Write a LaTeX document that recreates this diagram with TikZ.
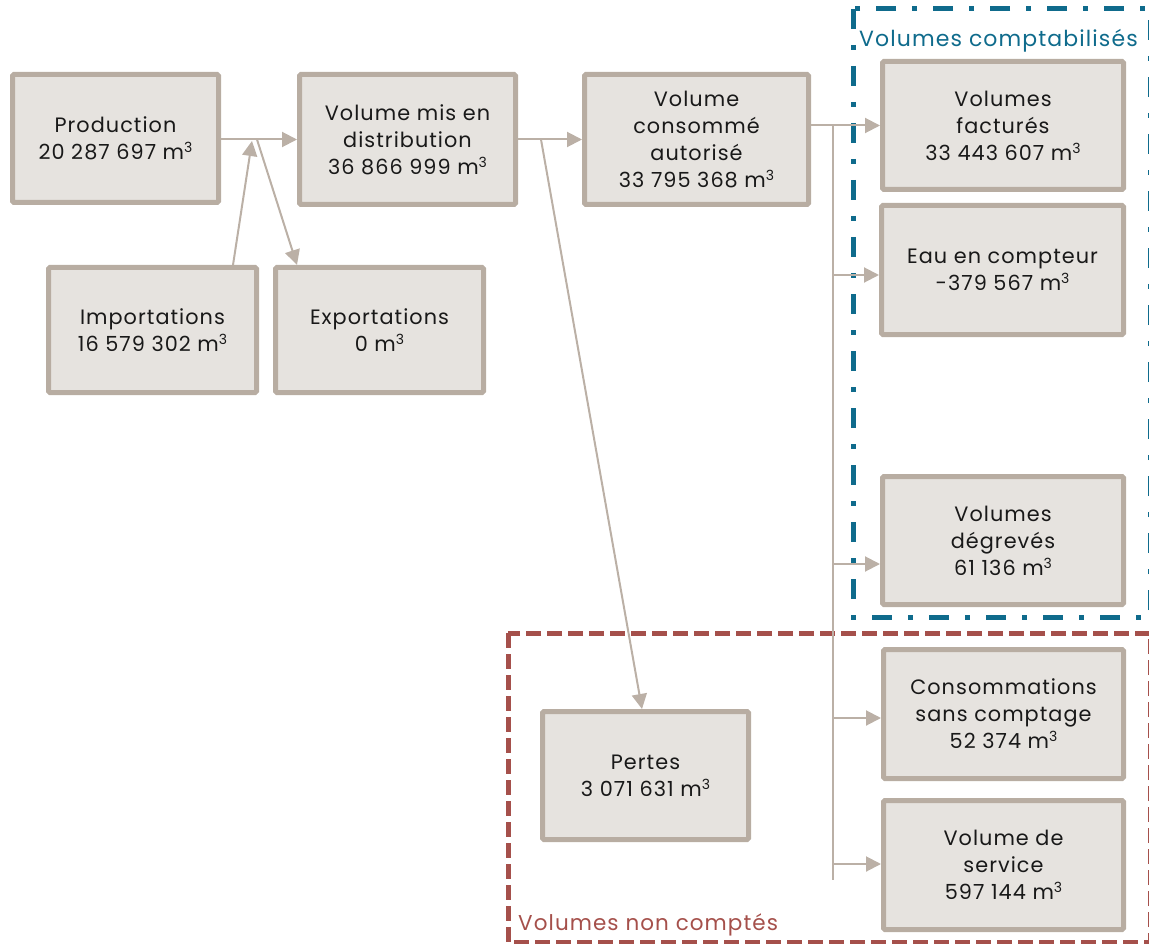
\documentclass[tikz,border=0pt]{standalone}
\usepackage{fontspec}
\setmainfont{Poppins}[LetterSpace=5]
\usetikzlibrary{arrows.meta}
\definecolor{bfill}{HTML}{E6E3DF}
\definecolor{bline}{HTML}{B8ADA2}
\definecolor{cline}{HTML}{BBB0A6}
\definecolor{fblue}{HTML}{0F6B8C}
\definecolor{fred}{HTML}{A5504B}
\newcommand{\mcube}{m\raisebox{0.62ex}{\fontsize{14}{14}\selectfont 3}}
\tikzset{
  box/.style={draw=bline, fill=bfill, line width=5pt, rounded corners=1.5pt, inner sep=0pt,
    align=center, text=black!90, font=\fontsize{20.8}{27}\selectfont},
  conn/.style={draw=cline, line width=2pt},
  arr/.style={conn, -{Triangle[length=15pt, width=15pt]}},
  framelabel/.style={anchor=base west, inner sep=0pt, font=\fontsize{21.5}{25}\selectfont},
}
\begin{document}
\begin{tikzpicture}[x=1pt, y=-1pt]
\useasboundingbox (0,0) rectangle (1149,944);
% frames
\draw[fblue, line width=5pt, dash pattern=on 20pt off 16pt on 5pt off 16pt] (853,9) rectangle (1150,617);
\draw[fred, line width=5pt, dash pattern=on 15pt off 6pt] (508,633) rectangle (1150,942);
\node[framelabel, text=fblue, font=\fontsize{22}{25}\selectfont] (lblA) at (859,47) {Volumes comptabilisés};
\node[framelabel, text=fred] (lblB) at (518,930) {Volumes non comptés};
% boxes
\node[box, minimum width=206pt, minimum height=128pt] (prod) at (115.5,138.5) {Production\\20 287 697 \mcube};
\node[box, minimum width=216pt, minimum height=130pt] (dist) at (407.5,139.5) {Volume mis en\\distribution\\36 866 999 \mcube};
\node[box, minimum width=224pt, minimum height=130pt] (cons) at (696.5,139.5) {Volume\\consommé\\autorisé\\33 795 368 \mcube};
\node[box, minimum width=208pt, minimum height=125pt] (imp) at (152.5,330) {Importations\\16 579 302 \mcube};
\node[box, minimum width=208pt, minimum height=125pt] (exp) at (379.5,330) {Exportations\\0 \mcube};
\node[box, minimum width=241pt, minimum height=128pt] (fact) at (1003,125.5) {Volumes\\facturés\\33 443 607 \mcube};
\node[box, minimum width=242pt, minimum height=129pt] (eau) at (1002.5,270) {Eau en compteur\\-379 567 \mcube};
\node[box, minimum width=241pt, minimum height=128pt] (degr) at (1003,540.5) {Volumes\\dégrevés\\61 136 \mcube};
\node[box, minimum width=240pt, minimum height=129pt] (sans) at (1003.5,714) {Consommations\\sans comptage\\52 374 \mcube};
\node[box, minimum width=240pt, minimum height=129pt] (serv) at (1003.5,865) {Volume de\\service\\597 144 \mcube};
\node[box, minimum width=206pt, minimum height=128pt] (pertes) at (645.5,775.5) {Pertes\\3 071 631 \mcube};
% junctions
\coordinate (j1) at (252,141);
\coordinate (j2) at (257,139.5);
\coordinate (j3) at (541,139.5);
\coordinate (b0) at (833,125.5);
\coordinate (b1) at (833,880);
% connectors
\draw[arr] (prod.east |- 0,139.5) -- (dist.west |- 0,139.5);
\draw[arr] ([xshift=80.5pt]imp.north) -- (j1);
\draw[arr] (j2) -- ([xshift=-82.5pt]exp.north);
\draw[arr] (dist.east) -- (cons.west);
\draw[arr] (j3) -- ([xshift=-3.5pt]pertes.north);
\draw[arr] (cons.east |- fact.west) -- (fact.west);
\draw[conn] (b0) -- (b1);
\draw[arr] (833,275) -- (eau.west |- 0,275);
\draw[arr] (833,564) -- (degr.west |- 0,564);
\draw[arr] (833,718) -- (sans.west |- 0,718);
\draw[arr] (833,864) -- (serv.west |- 0,864);
\end{tikzpicture}
\end{document}
